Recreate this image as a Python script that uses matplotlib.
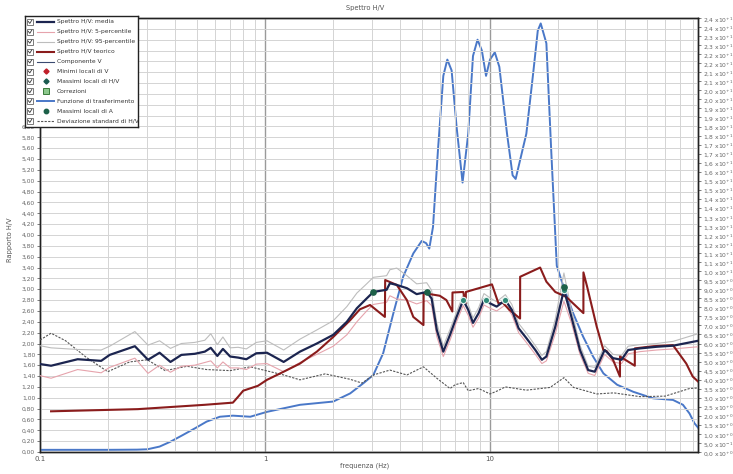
import numpy as np
import matplotlib
matplotlib.use("Agg")
import matplotlib.pyplot as plt
from matplotlib.patches import Rectangle
from matplotlib.lines import Line2D
from matplotlib.ticker import FixedLocator, FuncFormatter, NullFormatter
from decimal import Decimal, ROUND_HALF_UP

plt.rcParams['font.family'] = ['DejaVu Sans']

# ---- H/V mean spectrum ----
f_media = [0.097, 0.112, 0.147, 0.187, 0.204, 0.264, 0.302, 0.34, 0.38, 0.425, 0.487, 0.54,
           0.574, 0.614, 0.65, 0.70, 0.76, 0.826, 0.915, 1.02, 1.21, 1.43, 1.70, 2.01, 2.31,
           2.56, 2.83, 3.03, 3.47, 3.59, 3.85, 4.27, 4.72, 5.23, 5.5, 5.8, 6.2, 6.64, 7.1,
           7.6, 8.0, 8.4, 8.9, 9.4, 10.0, 10.7, 11.7, 12.5, 13.4, 14.5, 15.9, 17.0, 17.8,
           19.5, 21.3, 23.0, 25.1, 27.3, 29.2, 32.3, 35.2, 38.4, 41.1, 46.4, 55.1, 65.2, 84.0]
hv_media = [1.63, 1.59, 1.71, 1.68, 1.79, 1.95, 1.70, 1.83, 1.66, 1.79, 1.81, 1.85,
            1.92, 1.77, 1.90, 1.76, 1.74, 1.71, 1.82, 1.83, 1.66, 1.85, 2.00, 2.16, 2.40,
            2.65, 2.83, 2.95, 2.99, 3.11, 3.08, 3.02, 2.91, 2.95, 2.83, 2.25, 1.85, 2.16, 2.49,
            2.80, 2.62, 2.38, 2.56, 2.81, 2.74, 2.68, 2.80, 2.62, 2.28, 2.10, 1.88, 1.70, 1.76,
            2.31, 2.99, 2.49, 1.88, 1.51, 1.48, 1.88, 1.73, 1.70, 1.88, 1.91, 1.94, 1.96, 2.05]

# ---- 95-percentile ----
f_p95 = [0.097, 0.112, 0.147, 0.187, 0.204, 0.264, 0.302, 0.34, 0.38, 0.425, 0.487, 0.54,
         0.574, 0.614, 0.65, 0.70, 0.76, 0.826, 0.915, 1.02, 1.21, 1.43, 1.70, 2.01, 2.31,
         2.56, 2.83, 3.03, 3.47, 3.59, 3.85, 4.27, 4.72, 5.23, 5.5, 5.8, 6.2, 6.64, 7.1,
         7.6, 8.0, 8.4, 8.9, 9.4, 10.0, 10.7, 11.7, 12.5, 13.4, 14.5, 15.9, 17.0, 17.8,
         19.5, 21.3, 23.0, 25.1, 27.3, 29.2, 32.3, 35.2, 38.4, 41.1, 46.4, 55.1, 65.2, 84.0]
hv_p95 = [1.97, 1.92, 1.89, 1.88, 1.95, 2.22, 1.97, 2.05, 1.91, 2.00, 2.02, 2.06,
          2.18, 1.98, 2.12, 1.92, 1.93, 1.90, 2.02, 2.05, 1.88, 2.08, 2.25, 2.42, 2.68,
          2.93, 3.10, 3.22, 3.25, 3.36, 3.39, 3.25, 3.10, 3.12, 2.98, 2.38, 1.95, 2.26, 2.58,
          2.90, 2.72, 2.47, 2.66, 2.92, 2.84, 2.77, 2.90, 2.72, 2.37, 2.19, 1.96, 1.78, 1.85,
          2.45, 3.30, 2.62, 1.97, 1.58, 1.56, 1.96, 1.80, 1.78, 1.95, 1.98, 2.00, 2.04, 2.18]

# ---- 5-percentile ----
f_p05 = f_media
hv_p05 = [1.42, 1.36, 1.52, 1.46, 1.56, 1.73, 1.45, 1.60, 1.47, 1.58, 1.60, 1.65,
          1.68, 1.55, 1.66, 1.55, 1.55, 1.52, 1.62, 1.63, 1.48, 1.65, 1.80, 1.95, 2.16,
          2.40, 2.60, 2.72, 2.76, 2.88, 2.82, 2.80, 2.73, 2.79, 2.70, 2.13, 1.76, 2.06, 2.40,
          2.70, 2.52, 2.30, 2.47, 2.71, 2.65, 2.60, 2.71, 2.53, 2.20, 2.02, 1.80, 1.63, 1.68,
          2.18, 2.78, 2.38, 1.80, 1.45, 1.41, 1.80, 1.66, 1.63, 1.81, 1.85, 1.88, 1.90, 1.94]

# ---- theoretical H/V ----
f_teo = [0.112, 0.272, 0.54, 0.72, 0.76, 0.80, 0.93, 1.02, 1.21, 1.43, 1.70, 2.01, 2.39,
         2.64, 2.93, 3.41, 3.42, 3.85, 4.27, 4.56, 5.06, 5.07, 5.98, 6.4, 6.8, 6.81, 7.6,
         7.8, 7.81, 10.2, 10.9, 11.4, 12.2, 13.6, 13.61, 16.7, 17.8, 19.5, 21.8, 26.0, 26.01,
         27.0, 29.8, 31.9, 33.0, 35.2, 37.8, 37.81, 44.0, 44.01, 53.2, 65.0, 74.5, 79.6, 84.0]
hv_teo = [0.75, 0.79, 0.87, 0.91, 1.02, 1.13, 1.22, 1.33, 1.48, 1.63, 1.85, 2.12, 2.43,
          2.63, 2.71, 2.49, 3.17, 3.08, 2.80, 2.49, 2.34, 2.93, 2.88, 2.80, 2.59, 2.94, 2.95,
          2.74, 2.95, 3.09, 2.74, 2.75, 2.62, 2.46, 3.23, 3.40, 3.14, 2.95, 2.86, 2.56, 3.31,
          3.05, 2.31, 1.88, 1.86, 1.70, 1.39, 1.76, 1.59, 1.91, 1.95, 1.97, 1.63, 1.39, 1.30]

# ---- standard deviation of H/V ----
f_dev = [0.097, 0.112, 0.13, 0.16, 0.2, 0.25, 0.3, 0.36, 0.45, 0.55, 0.7, 0.86, 1.21,
         1.43, 1.85, 2.39, 2.7, 3.03, 3.59, 4.27, 5.06, 5.8, 6.64, 7.0, 7.6, 8.0, 8.9,
         10.0, 10.7, 11.7, 14.5, 18.5, 21.3, 23.5, 29.8, 35.5, 46.4, 60.0, 77.0, 84.0]
hv_dev = [2.03, 2.19, 2.05, 1.75, 1.48, 1.66, 1.70, 1.50, 1.58, 1.52, 1.50, 1.57, 1.42,
          1.33, 1.44, 1.34, 1.27, 1.42, 1.51, 1.42, 1.57, 1.36, 1.17, 1.24, 1.28, 1.13, 1.17,
          1.07, 1.12, 1.20, 1.14, 1.19, 1.37, 1.19, 1.07, 1.09, 1.02, 1.03, 1.17, 1.18]

# ---- transfer function (right axis) ----
f_tf = [0.1, 0.2, 0.27, 0.30, 0.34, 0.38, 0.43, 0.49, 0.55, 0.63, 0.72, 0.86, 1.02, 1.43,
        2.01, 2.39, 2.74, 3.03, 3.35, 3.72, 4.11, 4.56, 4.97, 5.2, 5.37, 5.58, 5.87, 6.2,
        6.46, 6.75, 7.1, 7.55, 8.0, 8.4, 8.8, 9.2, 9.6, 10.0, 10.5, 11.0, 11.9, 12.6, 13.0,
        14.5, 15.6, 16.3, 16.8, 17.8, 18.7, 19.8, 21.2, 23.4, 25.9, 28.7, 31.9, 36.7, 43.3,
        53.0, 65.0, 72.0, 77.0, 81.0, 84.0]
tf_val = [0.12, 0.12, 0.13, 0.15, 0.30, 0.57, 0.93, 1.32, 1.68, 1.95, 2.01, 1.95, 2.22, 2.61,
          2.79, 3.24, 3.81, 4.26, 5.46, 7.68, 9.69, 10.98, 11.67, 11.55, 11.25, 12.45, 16.7, 20.8,
          21.7, 21.1, 18.0, 14.9, 17.6, 21.9, 22.8, 22.2, 20.8, 21.7, 22.1, 21.3, 17.6, 15.3, 15.1,
          17.6, 21.1, 23.3, 23.7, 22.6, 16.7, 10.3, 9.15, 7.68, 6.39, 5.28, 4.35, 3.72, 3.33,
          2.97, 2.88, 2.61, 2.13, 1.59, 1.35]

# ---- local maxima markers ----
f_maxA = [3.03, 5.23, 21.3]
v_maxA = [2.95, 2.95, 3.05]
f_maxHV = [7.6, 9.6, 11.7, 21.3]
v_maxHV = [2.80, 2.80, 2.80, 2.99]

legend_labels = ["Spettro H/V: media", "Spettro H/V: 5-percentile",
                 "Spettro H/V: 95-percentile", "Spettro H/V teorico", "Componente V",
                 "Minimi locali di V", "Massimi locali di H/V", "Correzioni",
                 "Funzione di trasferimento", "Massimi locali di A",
                 "Deviazione standard di H/V"]

# ---- styles ----
st_media = dict(color='#1c2550', lw=1.6)
st_p05 = dict(color='#e6a3ac', lw=0.8)
st_p95 = dict(color='#bdbdbd', lw=0.8)
st_teo = dict(color='#8a1c1c', lw=1.5)
st_compv = dict(color='#3a4a70', lw=0.8)
st_tf = dict(color='#4a78c8', lw=1.4)
st_dev = dict(color='#555555', lw=0.8, ls=(0, (2, 1.2)))

W, H = 733, 474
fig = plt.figure(figsize=(W / 100, H / 100), dpi=100)
ax = fig.add_axes([40 / W, 1 - 452 / H, (698 - 40) / W, (452 - 18) / H])
ax2 = ax.twinx()

ax.set_xscale('log')
ax.set_xlim(0.1, 84)
ax.set_ylim(0, 8)
ax2.set_ylim(0, 24)

# grid
minor_x = [m * 10.0 ** e for e in range(-1, 2) for m in range(2, 10) if m * 10.0 ** e < 84]
for xv in minor_x:
    ax.axvline(xv, color='#d4d4d4', lw=0.7, zorder=0)
for xv in [1, 10]:
    ax.axvline(xv, color='#9a9a9a', lw=1.0, zorder=0)
for yv in np.arange(0.2, 8.0, 0.2):
    ax.axhline(yv, color='#d4d4d4', lw=0.7, zorder=0)

ax.plot(f_dev, hv_dev, **st_dev, zorder=3)
ax.plot(f_p95, hv_p95, **st_p95, zorder=3)
ax.plot(f_p05, hv_p05, **st_p05, zorder=3)
ax.plot(f_teo, hv_teo, **st_teo, zorder=4)
ax.plot(f_media, hv_media, **st_media, zorder=5)
ax.plot(f_maxHV, v_maxHV, ls='none', marker='o', ms=4.5, mfc='#2f8a78', mec='#e8f4f0', mew=0.8, zorder=6)
ax.plot(f_maxA, v_maxA, ls='none', marker='o', ms=3.8, mfc='#1c6048', mec='#1c6048', zorder=6)
ax2.plot(f_tf, tf_val, **st_tf, zorder=4)

ax.set_zorder(ax2.get_zorder() + 1)
ax.patch.set_visible(False)

# ticks
ax.set_xticks([0.1, 1, 10])
ax.set_xticklabels(['0.1', '1', '10'])
ax.xaxis.set_minor_formatter(NullFormatter())
ax.tick_params(axis='x', which='both', length=0, labelsize=5, colors='#555555', pad=3)
ax.set_yticks(np.arange(0, 6.01, 0.2))
ax.yaxis.set_major_formatter(FuncFormatter(lambda v, p: f"{v:.2f}".replace('.', ',')))
ax.tick_params(axis='y', length=2, width=0.6, labelsize=4.3, colors='#666666', pad=1.5)


def right_fmt(v, pos):
    if v < 0.01:
        return r"0,0 x10$^{+0}$"
    if v < 1:
        m, e = v * 10, "-1"
    elif v < 10:
        m, e = v, "+0"
    else:
        m, e = v / 10, "+1"
    m = Decimal(str(m)).quantize(Decimal('0.1'), rounding=ROUND_HALF_UP)
    return f"{m}".replace('.', ',') + r" x10$^{" + e + "}$"


ax2.yaxis.set_major_locator(FixedLocator(np.arange(0, 24.01, 0.5)))
ax2.yaxis.set_major_formatter(FuncFormatter(right_fmt))
ax2.tick_params(axis='y', length=2, width=0.6, labelsize=4.3, colors='#666666', pad=1.5)

for a in (ax, ax2):
    for s in a.spines.values():
        s.set_color('#222222')
        s.set_linewidth(1.0)

fig.text(365 / W, 1 - 8 / H, "Spettro H/V", ha='center', va='center', fontsize=4.8, color='#555555')
fig.text(365 / W, 1 - 466 / H, "frequenza (Hz)", ha='center', va='center', fontsize=4.8, color='#555555')
fig.text(10 / W, 1 - 240 / H, "Rapporto H/V", ha='center', va='center', rotation=90, fontsize=4.8, color='#555555')

# ---- legend with check boxes ----
lx0, ly0, lx1, ly1 = 25, 16, 138, 127
lax = fig.add_axes([lx0 / W, 1 - ly1 / H, (lx1 - lx0) / W, (ly1 - ly0) / H])
lax.set_xlim(lx0, lx1)
lax.set_ylim(ly1, ly0)
lax.set_xticks([])
lax.set_yticks([])
lax.set_facecolor('white')
for s in lax.spines.values():
    s.set_color('#222222')
    s.set_linewidth(1.0)
lax.set_zorder(10)

row_styles = [('line', st_media), ('line', st_p05), ('line', st_p95), ('line', st_teo),
              ('line', st_compv),
              ('marker', dict(marker='D', ms=2.6, mfc='#c0202a', mec='#c0202a')),
              ('marker', dict(marker='D', ms=2.6, mfc='#1a5a50', mec='#1a5a50')),
              ('marker', dict(marker='s', ms=4.0, mfc='#8cc88c', mec='#3a7a3a', mew=0.7)),
              ('line', st_tf),
              ('marker', dict(marker='o', ms=3.2, mfc='#1c6048', mec='#1c6048')),
              ('line', st_dev)]
for i, (lab, (kind, st)) in enumerate(zip(legend_labels, row_styles)):
    yc = ly0 + 6 + i * 9.9
    lax.add_patch(Rectangle((27, yc - 3), 6, 6, fc='white', ec='#666666', lw=0.6))
    lax.plot([28.2, 29.8, 31.8], [yc - 0.6, yc + 1.4, yc - 1.8], color='#333333', lw=0.6)
    if kind == 'line':
        lax.plot([37, 54], [yc, yc], **st)
    else:
        lax.plot([45.5], [yc], ls='none', **st)
    lax.text(57, yc, lab, va='center', ha='left', fontsize=4.3, color='#333333')

fig.savefig('out.png', dpi=100)
